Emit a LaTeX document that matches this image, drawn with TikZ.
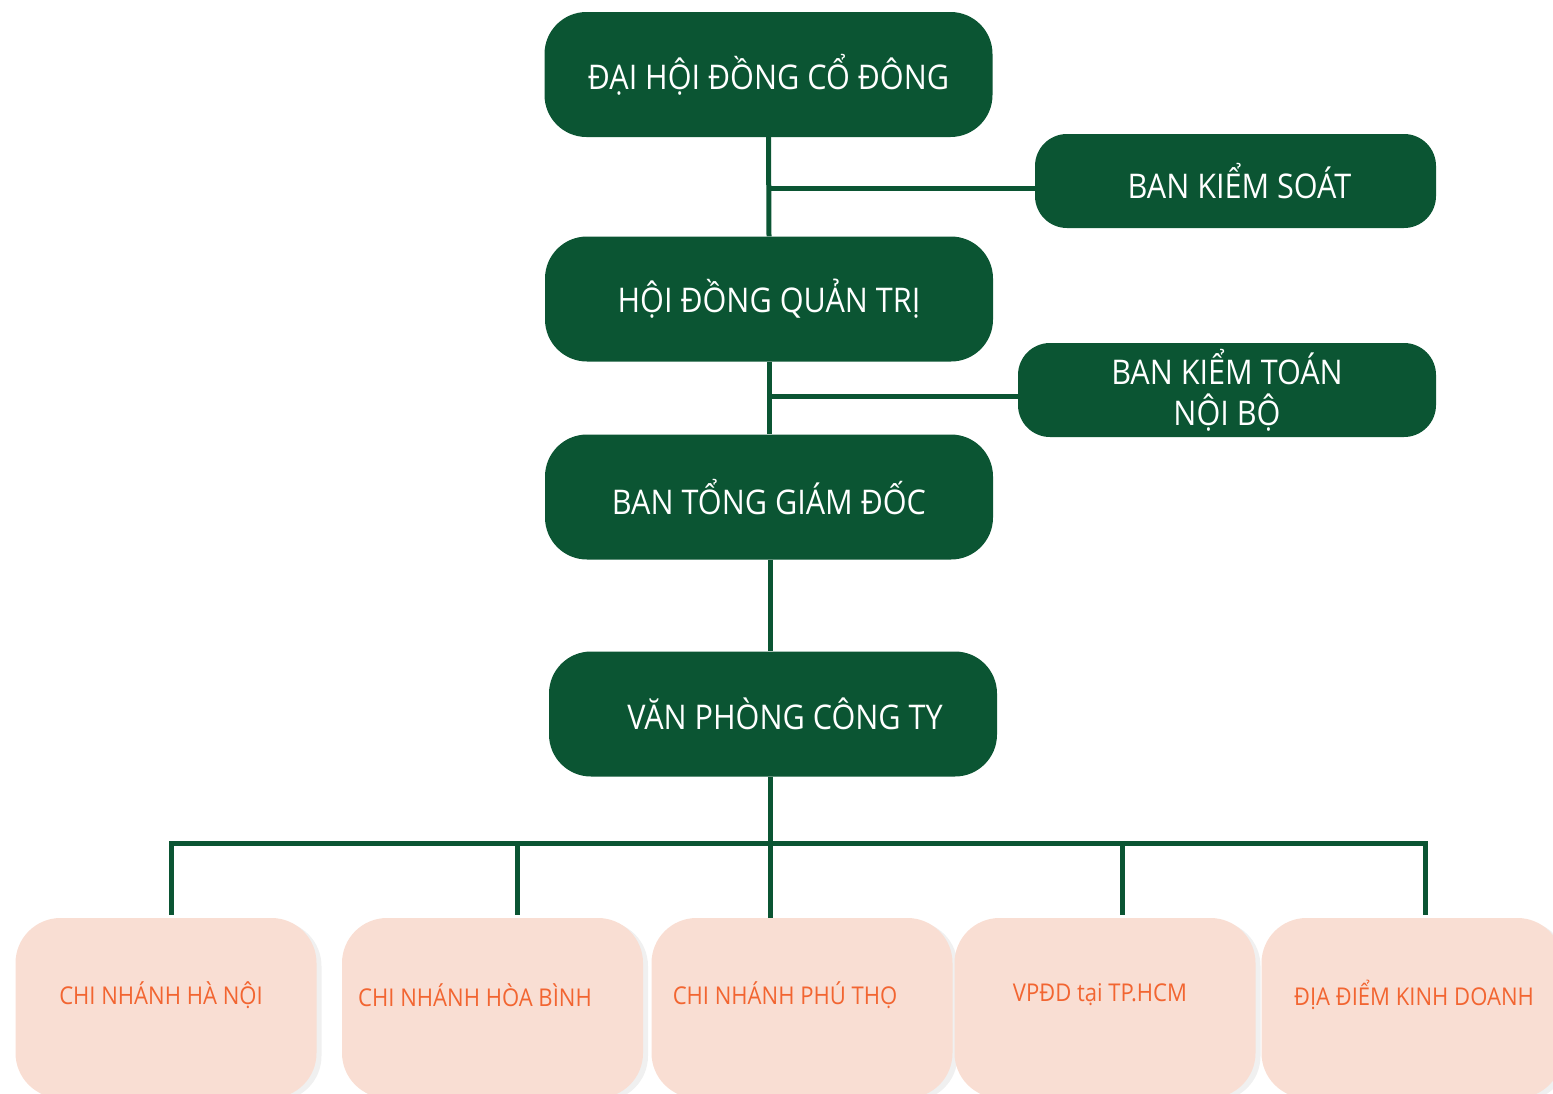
\documentclass[tikz,border=0pt]{standalone}
\usepackage{fontspec}
\setmainfont{Open Sans}[FakeStretch=0.9]
\usepackage{tikz}
\usetikzlibrary{positioning, shadows}
\definecolor{boardgreen}{HTML}{0B5533}
\definecolor{branchpink}{HTML}{F9DED3}
\definecolor{branchorange}{HTML}{F26531}

\begin{document}
\begin{tikzpicture}[
        x=1pt, y=-1pt,
        board/.style={fill=boardgreen, text=white, align=center, rounded corners=42pt, minimum width=448pt, minimum height=125pt, inner sep=0pt, font=\fontsize{34}{41}\selectfont},
        side/.style={board, rounded corners=32pt, minimum height=94pt},
        branch/.style={fill=branchpink, rounded corners=45pt, minimum width=301pt, minimum height=180pt, inner sep=0pt, drop shadow={opacity=0.12, shadow xshift=5pt, shadow yshift=-3pt}},
        branchtext/.style={text=branchorange, font=\fontsize{24.5}{30}\selectfont, inner sep=0pt},
        link/.style={draw=boardgreen, line width=5pt}
    ]
    \useasboundingbox (0,0) rectangle (1553,1093);

    % Nodes
    \node[board] (dhdcd) at (768.5,74.5) {ĐẠI HỘI ĐỒNG CỔ ĐÔNG};
    \node[side, minimum width=401pt] (bks) at (1235.5,181) {\hspace*{8pt}BAN KIỂM SOÁT};
    \node[board] (hdqt) at (769,299) {HỘI ĐỒNG QUẢN TRỊ};
    \node[side, minimum width=418pt] (bktnb) at (1227,390) {BAN KIỂM TOÁN\\NỘI BỘ};
    \node[board] (btgd) at (769,497) {BAN TỔNG GIÁM ĐỐC};
    \node[board] (vpct) at (773,714) {\hspace*{24pt}VĂN PHÒNG CÔNG TY};

    \node[branch] (hanoi) at (166,1008) {};
    \node[branch] (hoabinh) at (492.5,1008) {};
    \node[branch] (phutho) at (802,1008) {};
    \node[branch] (vpdd) at (1105,1008) {};
    \node[branch] (ddkd) at (1412,1008) {};

    \node[branchtext] (hanoi_txt) at (161,995) {CHI NHÁNH HÀ NỘI};
    \node[branchtext] (hoabinh_txt) at (475,995) {CHI NHÁNH HÒA BÌNH};
    \node[branchtext] (phutho_txt) at (785,995) {CHI NHÁNH PHÚ THỌ};
    \node[branchtext] (vpdd_txt) at (1100,995) {VPĐD tại TP.HCM};
    \node[branchtext] (ddkd_txt) at (1414,995) {ĐỊA ĐIỂM KINH DOANH};

    \coordinate (bus) at (770,843);

    % Connections
    \draw[link] (dhdcd.south) -- (hdqt.north);
    \draw[link] ([yshift=-7pt]bks.west) -- ([yshift=-7pt]bks.west -| dhdcd.south);
    \draw[link] (hdqt.south) -- (btgd.north);
    \draw[link] ([yshift=-6pt]bktnb.west) -- ([yshift=-6pt]bktnb.west -| hdqt.south);
    \draw[link] (btgd.south -| bus) -- (vpct.north -| bus);
    \draw[link] (vpct.south -| bus) -- (bus);
    \draw[link] ([xshift=5pt, yshift=3pt]hanoi.north) |- (bus) -| ([xshift=13pt, yshift=3pt]ddkd.north);
    \draw[link] (bus) -- (bus |- phutho.north);
    \foreach \branchname/\dx in {hoabinh/24.5, vpdd/17}
        \draw[link] ([xshift=\dx pt, yshift=3pt]\branchname.north) -- ([xshift=\dx pt]\branchname.north |- bus);

\end{tikzpicture}
\end{document}
